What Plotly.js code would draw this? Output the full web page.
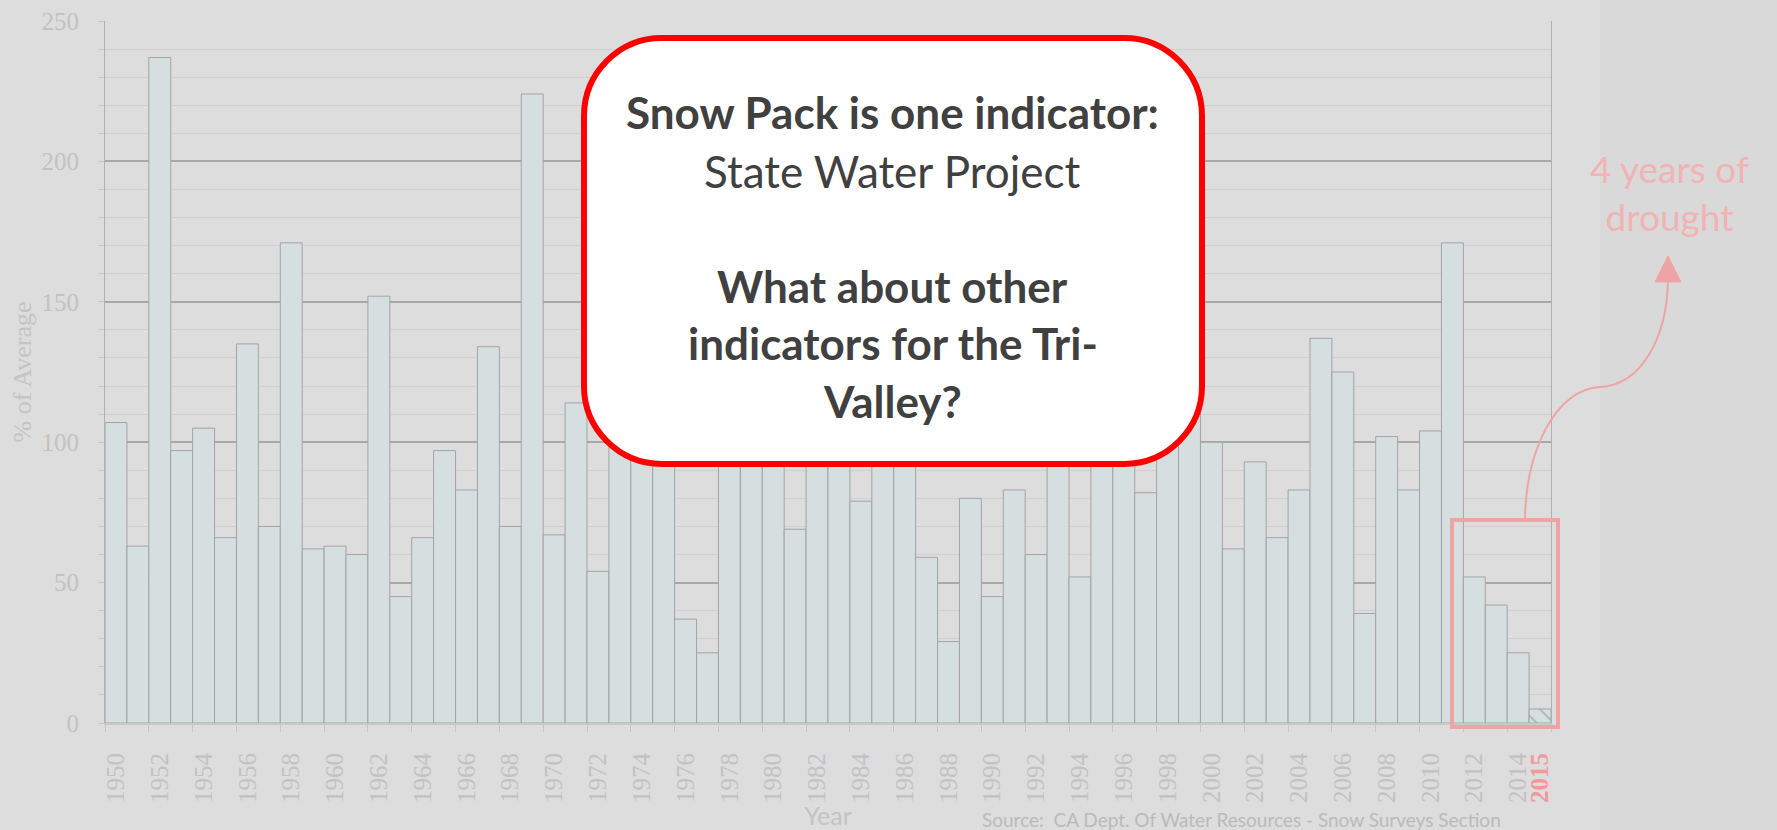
<!DOCTYPE html>
<html>
<head>
<meta charset="utf-8">
<script src="https://cdn.plot.ly/plotly-3.0.1.min.js"></script>
<style>html,body{margin:0;padding:0;background:#dddddd;}#chart{width:1777px;height:830px;}</style>
</head>
<body>
<div id="chart"></div>
<script>
// ---- data ----
const years = [1950,1951,1952,1953,1954,1955,1956,1957,1958,1959,
               1960,1961,1962,1963,1964,1965,1966,1967,1968,1969,
               1970,1971,1972,1973,1974,1975,1976,1977,1978,1979,
               1980,1981,1982,1983,1984,1985,1986,1987,1988,1989,
               1990,1991,1992,1993,1994,1995,1996,1997,1998,1999,
               2000,2001,2002,2003,2004,2005,2006,2007,2008,2009,
               2010,2011,2012,2013,2014,2015];
const pctOfAverage = [107,63,237,97,105,66,135,70,171,62,
                      63,60,152,45,66,97,83,134,70,224,
                      67,114,54,125,120,115,37,25,145,100,
                      130,69,160,227,79,95,140,59,29,80,
                      45,83,60,150,52,160,110,82,150,115,
                      100,62,93,66,83,137,125,39,102,83,
                      104,171,52,42,25,5];
const tickYears = [1950,1952,1954,1956,1958,1960,1962,1964,1966,1968,
                   1970,1972,1974,1976,1978,1980,1982,1984,1986,1988,
                   1990,1992,1994,1996,1998,2000,2002,2004,2006,2008,
                   2010,2012,2014,2015];
const tickLabels = ['1950','1952','1954','1956','1958','1960','1962','1964','1966','1968',
                    '1970','1972','1974','1976','1978','1980','1982','1984','1986','1988',
                    '1990','1992','1994','1996','1998','2000','2002','2004','2006','2008',
                    '2010','2012','2014','2015'];
const highlightYear = '2015';
const calloutLines = ['Snow Pack is one indicator:', 'State Water Project', 'What about other', 'indicators for the Tri-', 'Valley?'];
const calloutBold = [true, false, true, true, true];
const droughtText = '4 years of<br>drought';
const sourceText = 'Source:  CA Dept. Of Water Resources - Snow Surveys Section';

// ---- geometry helpers (pixel -> paper) ----
const Wd = 1777, Ht = 830;
const L = 105, R = 1551, T = 21, B = 723;
const PW = R - L, PH = B - T;
const px = x => (x - L) / PW;
const py = y => (B - y) / PH;
const P = (x, y) => px(x).toFixed(5) + ',' + py(y).toFixed(5);

function roundRectPath(x0, y0, x1, y1, r) {
  const k = 0.5523 * r;
  return 'M ' + P(x0 + r, y0) +
    ' L ' + P(x1 - r, y0) +
    ' C ' + P(x1 - r + k, y0) + ' ' + P(x1, y0 + r - k) + ' ' + P(x1, y0 + r) +
    ' L ' + P(x1, y1 - r) +
    ' C ' + P(x1, y1 - r + k) + ' ' + P(x1 - r + k, y1) + ' ' + P(x1 - r, y1) +
    ' L ' + P(x0 + r, y1) +
    ' C ' + P(x0 + r - k, y1) + ' ' + P(x0, y1 - r + k) + ' ' + P(x0, y1 - r) +
    ' L ' + P(x0, y0 + r) +
    ' C ' + P(x0, y0 + r - k) + ' ' + P(x0 + r - k, y0) + ' ' + P(x0 + r, y0) + ' Z';
}

const pink = '#eea4a4';
const faded = '#c2c2c2';

const patterns = years.map(y => String(y) === highlightYear ? '\\' : '');
const ticktext = tickLabels.map(t => t === highlightYear ? '<b><span style="color:#f09a9a">' + t + '</span></b>' : t);

const trace = {
  type: 'bar',
  x: years,
  y: pctOfAverage,
  width: 1,
  marker: {
    color: '#d6dfdf',
    line: {color: '#a3a3a3', width: 1},
    pattern: {shape: patterns, fgcolor: '#a8a8a8', bgcolor: '#d6dfdf', size: 12, solidity: 0.12}
  },
  hoverinfo: 'x+y'
};

const callY = [110, 169, 284, 341, 399];
const annotations = calloutLines.map((t, i) => ({
  xref: 'paper', yref: 'paper', x: px(893), y: py(callY[i] + 2),
  xanchor: 'center', yanchor: 'middle', showarrow: false,
  text: calloutBold[i] ? '<b>' + t + '</b>' : t,
  font: {family: 'Lato', size: 44, color: '#404040'}
}));
annotations.push({
  xref: 'paper', yref: 'paper', x: px(1669), y: py(192),
  xanchor: 'center', yanchor: 'middle', showarrow: false,
  text: droughtText, font: {family: 'Lato', size: 37, color: '#f1b3b3'}
});
annotations.push({
  xref: 'paper', yref: 'paper', x: px(980), y: py(819),
  xanchor: 'left', yanchor: 'middle', showarrow: false,
  text: sourceText, font: {family: 'Lato', size: 19, color: '#bababa'}
});

const shapes = [
  // slightly darker right strip
  {type: 'rect', xref: 'paper', yref: 'paper', x0: px(1600), x1: px(1777), y0: py(830), y1: py(0),
   fillcolor: '#d9d9d9', line: {width: 0}, layer: 'below'},
  // drought highlight box (around 2011-2015)
  {type: 'path', xref: 'paper', yref: 'paper',
   path: 'M ' + P(1452, 520) + ' L ' + P(1558, 520) + ' L ' + P(1558, 727) + ' L ' + P(1452, 727) + ' Z',
   line: {color: pink, width: 4}, fillcolor: 'rgba(0,0,0,0)', layer: 'above'},
  // curved arrow
  {type: 'path', xref: 'paper', yref: 'paper',
   path: 'M ' + P(1525, 519) + ' C ' + P(1526, 450) + ' ' + P(1556, 389) + ' ' + P(1600, 387) +
         ' C ' + P(1640, 385) + ' ' + P(1667, 340) + ' ' + P(1668, 280),
   line: {color: pink, width: 2}, layer: 'above'},
  {type: 'path', xref: 'paper', yref: 'paper',
   path: 'M ' + P(1668, 256) + ' L ' + P(1681, 282) + ' L ' + P(1655, 282) + ' Z',
   fillcolor: pink, line: {color: pink, width: 1}, layer: 'above'},
  // callout box
  {type: 'path', xref: 'paper', yref: 'paper', path: roundRectPath(584, 38, 1202, 464, 78),
   fillcolor: '#ffffff', line: {color: '#ff0000', width: 6}, layer: 'above'}
];

const layout = {
  width: Wd, height: Ht, autosize: false,
  margin: {l: L, r: Wd - R, t: T, b: Ht - B, pad: 0},
  paper_bgcolor: '#dddddd',
  plot_bgcolor: 'rgba(0,0,0,0)',
  showlegend: false,
  bargap: 0,
  xaxis: {
    type: 'linear', range: [1949.5, 2015.5], fixedrange: true,
    tickmode: 'array', tickvals: tickYears, ticktext: ticktext, tickangle: -90,
    tickfont: {family: 'Liberation Serif', size: 25, color: faded},
    ticks: '', showgrid: false, zeroline: false,
    showline: true, linecolor: '#c8c8c8', linewidth: 2,
    ticklabelstandoff: 18,
    minor: {tickmode: 'linear', tick0: 1949.5, dtick: 2, ticks: 'outside', ticklen: 7, tickcolor: '#c6c6c6', tickwidth: 1, showgrid: false},
    title: {text: 'Year', font: {family: 'Lato', size: 25, color: '#c4c4c4'}, standoff: 12}
  },
  yaxis: {
    range: [0, 250], fixedrange: true, tick0: 0, dtick: 50,
    tickfont: {family: 'Liberation Serif', size: 25, color: faded},
    ticks: 'outside', ticklen: 6, tickcolor: '#c6c6c6',
    showgrid: true, gridcolor: '#a8a8a8', gridwidth: 2,
    zeroline: false, showline: true, mirror: true, linecolor: '#b0b0b0', linewidth: 1,
    ticklabelstandoff: 14,
    minor: {dtick: 10, showgrid: true, gridcolor: '#d0d0d0', gridwidth: 1, ticks: 'outside', ticklen: 6, tickcolor: '#cacaca'},
    title: {text: '% of Average', font: {family: 'Liberation Serif', size: 26, color: '#c4c4c4'}, standoff: 2}
  },
  shapes: shapes,
  annotations: annotations
};

Plotly.newPlot('chart', [trace], layout, {displayModeBar: false, staticPlot: true});
</script>
</body>
</html>
